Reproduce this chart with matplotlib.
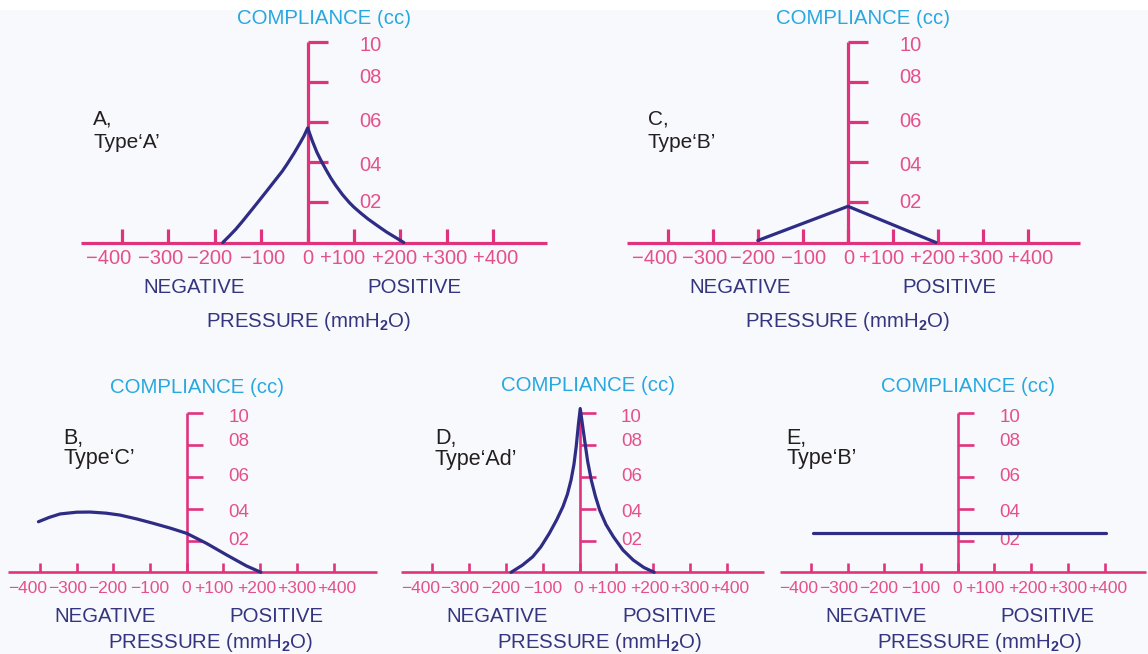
import matplotlib
matplotlib.use("Agg")
import matplotlib.pyplot as plt
from matplotlib.transforms import offset_copy
from matplotlib.patches import Rectangle

plt.rcParams['font.family'] = ['Liberation Sans', 'DejaVu Sans']
plt.rcParams['mathtext.fontset'] = 'custom'
plt.rcParams['mathtext.rm'] = 'Liberation Sans'
plt.rcParams['mathtext.it'] = 'Liberation Sans'
plt.rcParams['mathtext.bf'] = 'Liberation Sans:bold'

# ---------------- data ----------------
x_ticks = [-400, -300, -200, -100, 0, 100, 200, 300, 400]
x_ticklabels = ['\u2212400', '\u2212300', '\u2212200', '\u2212100', '0',
                '+100', '+200', '+300', '+400']
y_ticks = [2, 4, 6, 8, 10]
y_ticklabels = ['02', '04', '06', '08', '10']

panel_letters = ['A', 'C', 'B', 'D', 'E']
panel_types = ['A', 'B', 'C', 'Ad', 'B']

# Type A
a_x = [-183, -170, -155, -140, -125, -110, -89, -70, -55, -45, -30, -16, -8, 0,
       10, 20, 30, 40, 50, 60, 75, 90, 100, 115, 130, 150, 170, 190, 207]
a_y = [0, 0.3, 0.66, 1.07, 1.5, 1.93, 2.54, 3.1, 3.54, 3.88, 4.42, 4.97, 5.3, 5.7,
       5.05, 4.48, 4.02, 3.6, 3.2, 2.85, 2.38, 1.98, 1.75, 1.45, 1.17, 0.84, 0.52, 0.24, 0]
# Type B (panel C)
c_x = [-200, 0, 195]
c_y = [0.1, 1.8, 0]
# Type C (panel B)
b_x = [-404, -375, -345, -300, -263, -220, -182, -135, -91, -45, 0,
       54, 109, 163, 202]
b_y = [3.18, 3.45, 3.67, 3.78, 3.79, 3.72, 3.6, 3.35, 3.08, 2.78, 2.45,
       1.82, 1.09, 0.4, 0]
# Type Ad (panel D)
d_x = [-186, -155, -127, -105, -82, -62, -45, -33, -23, -15, -9, -3, 2,
       8, 14, 22, 32, 43, 55, 72, 92, 118, 146, 175, 203]
d_y = [0, 0.45, 0.98, 1.6, 2.45, 3.3, 4.13, 4.9, 5.8, 6.8, 7.9, 9.3, 10.3,
       9.3, 8.3, 7.0, 5.8, 4.8, 3.9, 3.0, 2.24, 1.4, 0.77, 0.3, 0]
# Type B (panel E)
e_x = [-395, 405]
e_y = [2.5, 2.5]

curves_x = [a_x, c_x, b_x, d_x, e_x]
curves_y = [a_y, c_y, b_y, d_y, e_y]

# ---------------- styles ----------------
PINK = '#E0337E'
PINK_TXT = '#E4508C'
CYAN = '#27A8DF'
NAVY = '#2E2C85'
NAVY_TXT = '#34347F'
BLACK = '#231F20'
BG = '#F8F9FC'

W, H = 1148, 654
fig = plt.figure(figsize=(W / 100, H / 100), dpi=100, facecolor=BG)
fig.patches.append(Rectangle((0, 1 - 10 / H), 1, 10 / H, transform=fig.transFigure,
                             facecolor='white', edgecolor='none', zorder=0))

layouts = [
    dict(ox=307.7, oy=242.5, sx=0.464, sy=20.1, big=True, xa=(-488, 515)),
    dict(ox=848.0, oy=242.5, sx=0.451, sy=20.1, big=True, xa=(-490, 515)),
    dict(ox=186.7, oy=572.3, sx=0.367, sy=15.9, big=False, xa=(-486, 518)),
    dict(ox=579.5, oy=572.3, sx=0.368, sy=15.9, big=False, xa=(-484, 500)),
    dict(ox=957.7, oy=572.3, sx=0.367, sy=15.9, big=False, xa=(-484, 514)),
]

# pixel nudges of the hand-set tick labels (x: right +, y: down +)
xlab_dx_big = [-13, -8, -5.5, 1, 0.5, -12, -6, -2.5, 2.5]
xlab_dx_small = [-12, -9, -5.5, 0, -1, -9.4, -3.4, 0, 3]
ylab_dy_big = [0, 3, 0, -4, 4]
ylab_dy_small = [0, 3.5, 0, -4, 4.5]

title_pos = [(35, 11.16), (34, 11.16), (29, 11.65), (23, 11.75), (28, 11.7)]
neg_pos = [(-245, -2.25), (-240, -2.25), (-223, -2.75), (-223, -2.75), (-223, -2.75)]
pos_pos = [(229, -2.25), (224, -2.25), (245, -2.75), (245, -2.75), (245, -2.75)]
press_pos = [(3, -3.93), (0, -3.93), (66, -4.43), (56, -4.43), (61, -4.43)]
lab_pos = [(-462, 5.55), (-444, 5.55), (-336, 7.8), (-393, 7.75), (-466, 7.8)]

XL = (-520, 545)
YL = (-6.0, 12.8)

for i, L in enumerate(layouts):
    x0, x1 = XL
    y0, y1 = YL
    left = (L['ox'] + x0 * L['sx']) / W
    width = (x1 - x0) * L['sx'] / W
    bottom = (H - (L['oy'] - y0 * L['sy'])) / H
    height = (y1 - y0) * L['sy'] / H
    ax = fig.add_axes([left, bottom, width, height])
    ax.set_xlim(XL)
    ax.set_ylim(YL)
    ax.patch.set_alpha(0)

    big = L['big']
    lw_axis = 2.3 if big else 1.9
    for s in ['top', 'right']:
        ax.spines[s].set_visible(False)
    ax.spines['left'].set_position(('data', 0))
    ax.spines['bottom'].set_position(('data', 0))
    ax.spines['left'].set_bounds(0, 10)
    ax.spines['bottom'].set_bounds(*L['xa'])
    for s in ['left', 'bottom']:
        ax.spines[s].set_color(PINK)
        ax.spines[s].set_linewidth(lw_axis)
        ax.spines[s].set_capstyle('butt')

    ax.set_xticks(x_ticks)
    ax.set_yticks(y_ticks)
    ax.tick_params(axis='x', direction='in', length=10 if big else 6.5,
                   width=lw_axis, color=PINK, labelbottom=False)
    ax.tick_params(axis='y', direction='in', length=14.5 if big else 11.5,
                   width=lw_axis, color=PINK, labelleft=False)

    # tick labels (placed by hand, as in the drawing)
    xfs = 14.5 if big else 12.5
    xdy = -15.5 if big else -16.5
    xdx = xlab_dx_big if big else xlab_dx_small
    for xv, txt, dx in zip(x_ticks, x_ticklabels, xdx):
        tr = offset_copy(ax.transData, fig=fig, x=dx, y=xdy, units='dots')
        ax.text(xv, 0, txt, transform=tr, ha='center', va='center',
                fontsize=xfs, color=PINK_TXT)
    yfs = 14.5 if big else 13.5
    ydx = 51.5 if big else 41.5
    ydy = ylab_dy_big if big else ylab_dy_small
    for yv, txt, dy in zip(y_ticks, y_ticklabels, ydy):
        tr = offset_copy(ax.transData, fig=fig, x=ydx, y=-dy, units='dots')
        ax.text(0, yv, txt, transform=tr, ha='left', va='center',
                fontsize=yfs, color=PINK_TXT)

    ax.plot(curves_x[i], curves_y[i], color=NAVY, lw=2.3, solid_capstyle='round',
            solid_joinstyle='round', zorder=5, clip_on=False)

    ax.text(*title_pos[i], 'COMPLIANCE (cc)', color=CYAN, fontsize=14.7,
            ha='center', va='center')
    ax.text(*neg_pos[i], 'NEGATIVE', color=NAVY_TXT, fontsize=14.7,
            ha='center', va='center')
    ax.text(*pos_pos[i], 'POSITIVE', color=NAVY_TXT, fontsize=14.7,
            ha='center', va='center')
    ax.text(*press_pos[i], 'PRESSURE (mmH$_\\mathbf{2}$O)', color=NAVY_TXT,
            fontsize=14.7, ha='center', va='center')
    ax.text(*lab_pos[i], f"{panel_letters[i]},\nType\u2018{panel_types[i]}\u2019",
            color=BLACK, fontsize=15 if big else 15.5, ha='left', va='center',
            linespacing=1.3 if big else 0.95)

fig.savefig('out.png', dpi=100, facecolor=BG)
